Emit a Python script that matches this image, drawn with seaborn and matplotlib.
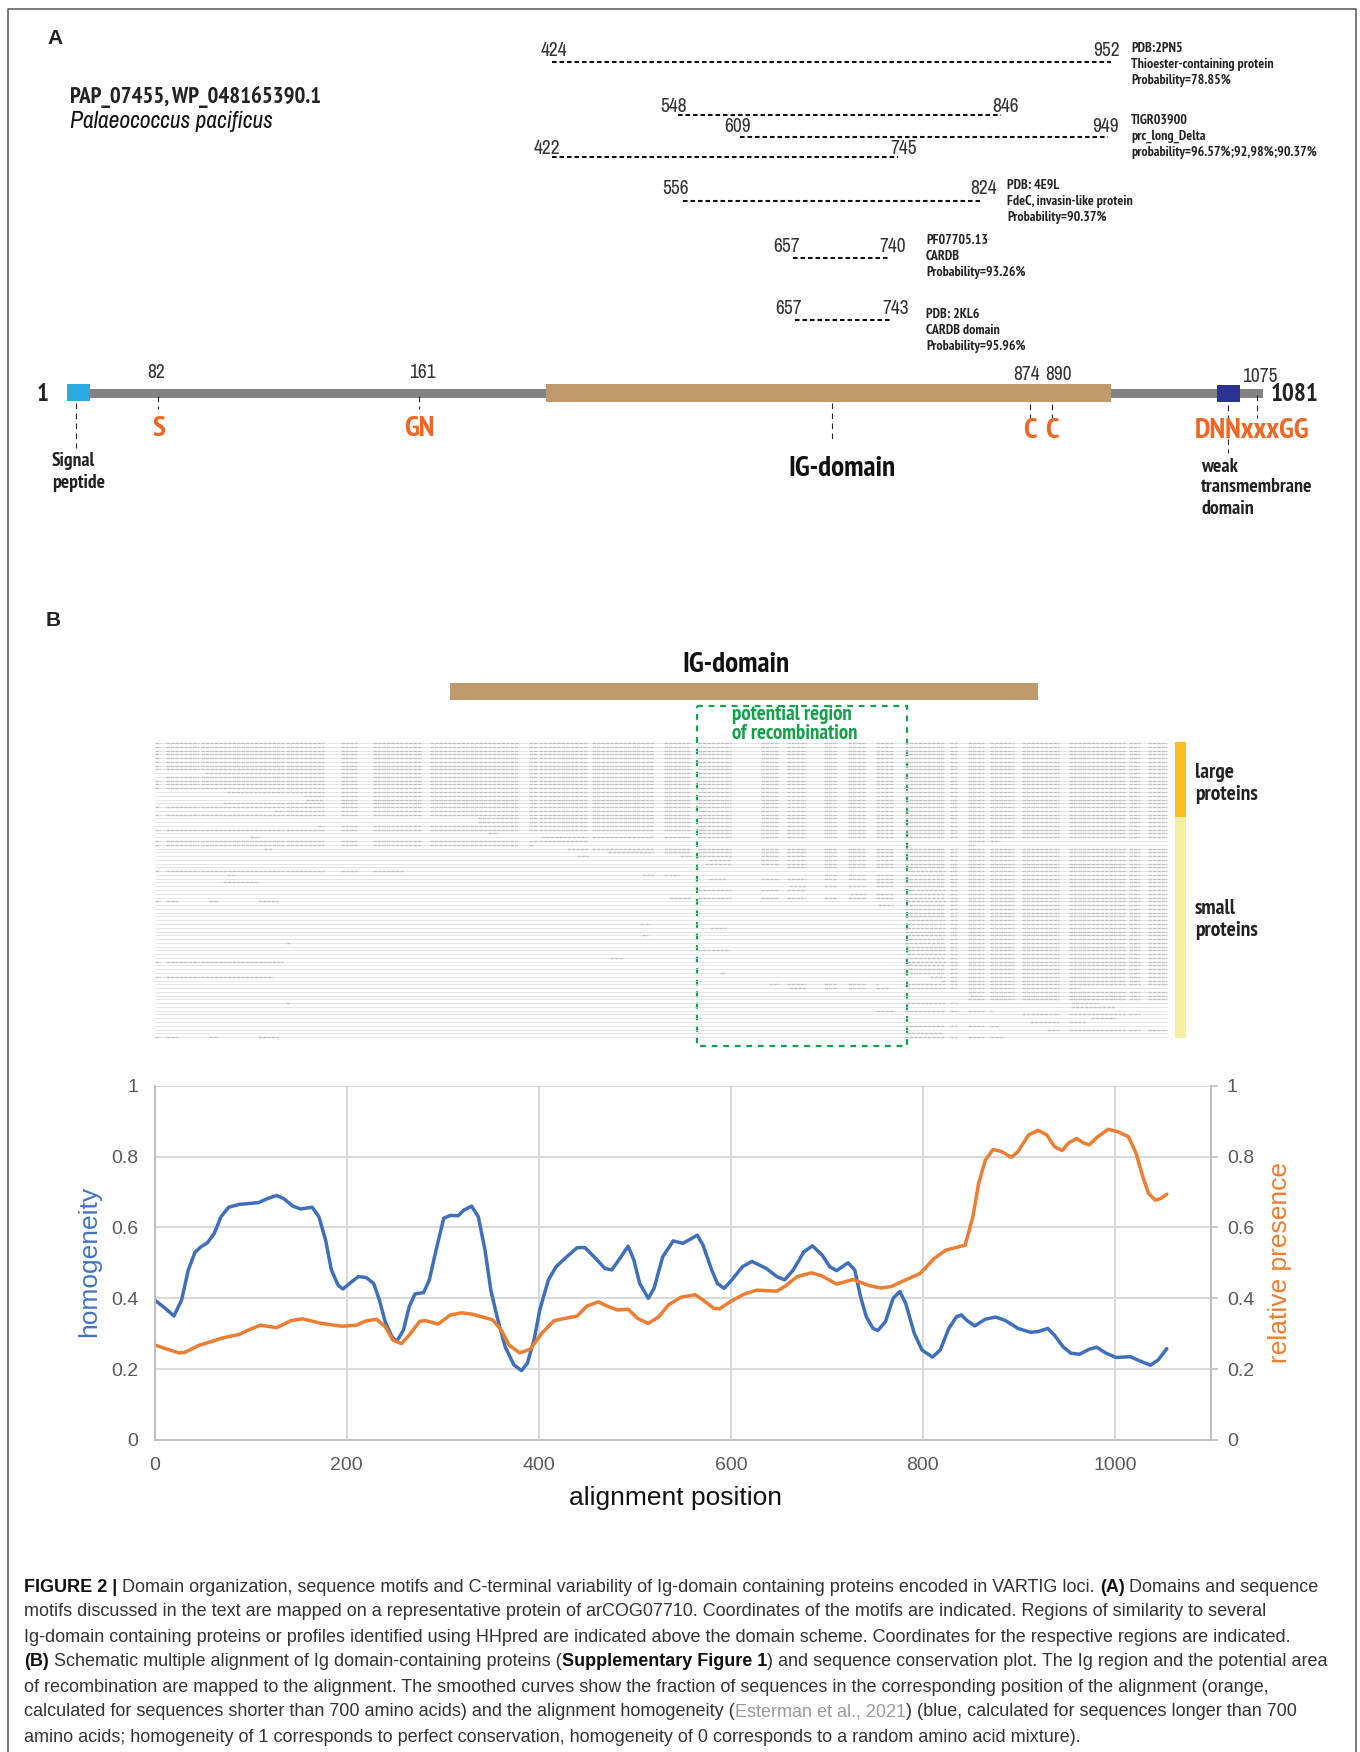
import matplotlib
matplotlib.use("Agg")
import matplotlib.pyplot as plt
import seaborn as sns
from matplotlib.patches import Rectangle

sns.set_theme(style="whitegrid")

NARROW = ['Archivo Narrow', 'Liberation Sans']
NARROW_BOLD = ['PT Sans Narrow', 'Liberation Sans']
plt.rcParams['font.family'] = ['Liberation Sans', 'DejaVu Sans']

# curves
blue_x = [0, 10, 20, 28, 35, 42, 48, 55, 62, 69, 77, 88, 108, 118, 127, 134, 144, 152, 164, 171, 178, 184, 191,
          196, 203, 212, 220, 228, 234, 240, 247, 252, 259, 265, 271, 280, 286, 293, 301, 308, 316, 322, 330, 337,
          344, 350, 357, 365, 374, 382, 388, 395, 401, 410, 418, 429, 440, 448, 459, 469, 476, 482, 493, 499, 505,
          514, 520, 529, 540, 550, 565, 571, 580, 586, 593, 601, 612, 622, 637, 648, 656, 665, 676, 685, 695, 703,
          710, 716, 722, 729, 735, 741, 748, 753, 761, 769, 776, 782, 791, 799, 810, 818, 827, 835, 840, 846, 854,
          865, 876, 886, 899, 912, 920, 930, 937, 946, 954, 963, 973, 981, 990, 1001, 1016, 1026, 1037, 1045, 1054]
blue_y = [.395, .374, .35, .395, .48, .53, .545, .557, .583, .63, .657, .665, .67, .682, .69, .682, .66, .652, .657,
          .63, .564, .48, .437, .426, .442, .461, .459, .442, .395, .334, .292, .278, .31, .376, .412, .416, .452,
          .536, .626, .634, .633, .649, .66, .63, .536, .423, .343, .263, .212, .196, .216, .282, .367, .452, .489,
          .517, .543, .543, .513, .484, .48, .503, .547, .508, .442, .40, .428, .517, .562, .555, .578, .55, .48,
          .442, .428, .452, .489, .504, .484, .461, .452, .48, .531, .548, .522, .489, .478, .489, .50, .48, .405,
          .348, .315, .309, .334, .40, .419, .386, .301, .254, .234, .254, .315, .348, .353, .337, .322, .341, .347,
          .337, .315, .304, .306, .315, .296, .263, .245, .242, .256, .262, .246, .233, .235, .223, .211, .226, .258]
orange_x = [0, 10, 25, 31, 46, 59, 72, 88, 99, 110, 127, 142, 154, 174, 195, 210, 220, 231, 240, 248, 257, 265, 276,
            282, 295, 308, 320, 331, 352, 361, 369, 380, 391, 403, 416, 427, 440, 450, 462, 471, 482, 493, 503, 514,
            525, 535, 548, 563, 571, 582, 588, 601, 614, 627, 648, 656, 669, 684, 695, 710, 727, 744, 756, 767, 778,
            797, 812, 824, 844, 852, 858, 865, 873, 882, 892, 899, 910, 920, 929, 937, 945, 952, 960, 967, 973, 982,
            993, 1003, 1014, 1022, 1029, 1035, 1042, 1048, 1054]
orange_y = [.268, .259, .246, .247, .267, .278, .289, .298, .312, .324, .317, .337, .342, .329, .321, .324, .336,
            .341, .32, .282, .272, .296, .335, .337, .327, .353, .359, .355, .339, .31, .268, .246, .256, .301, .337,
            .343, .35, .378, .39, .378, .367, .369, .343, .329, .348, .381, .403, .41, .395, .372, .37, .393, .412,
            .423, .42, .433, .461, .472, .463, .44, .453, .436, .429, .433, .447, .47, .513, .536, .55, .63, .724,
            .79, .82, .814, .798, .814, .861, .874, .861, .828, .817, .839, .851, .839, .833, .856, .877, .87, .856,
            .809, .743, .696, .677, .682, .694]
x_ticks = [0, 200, 400, 600, 800, 1000]
y_ticks = [0, 0.2, 0.4, 0.6, 0.8, 1]
y_tick_labels = ['0', '0.2', '0.4', '0.6', '0.8', '1']

# HHpred hits: start, end, row height on page, start/end drawn on page
hit_start = ['424', '548', '609', '422', '556', '657', '657']
hit_end = ['952', '846', '949', '745', '824', '740', '743']
hit_x0 = [552, 678, 740, 552, 683, 793, 795]
hit_x1 = [1111, 1001, 1108, 898, 980, 889, 892]
hit_y = [62, 115, 137, 157, 201, 258, 320]
hit_label_x0 = [554, 674, 738, 547, 676, 787, 789]
hit_label_x1 = [1107, 1006, 1106, 904, 984, 893, 896]
hit_label_y = [49, 104, 125, 146, 187, 245, 307]

note_lines = [['PDB:2PN5', 'Thioester-containing protein', 'Probability=78.85%'],
              ['TIGR03900', 'prc_long_Delta', 'probability=96.57%;92,98%;90.37%'],
              ['PDB: 4E9L', 'FdeC, invasin-like protein', 'Probability=90.37%'],
              ['PF07705.13', 'CARDB', 'Probability=93.26%'],
              ['PDB: 2KL6', 'CARDB domain', 'Probability=95.96%']]
note_x = [1131, 1131, 1007, 926, 926]
note_y = [47, 119, 184, 239, 313]

motif_pos = ['82', '161', '874', '890', '1075']
motif_pos_x = [156, 422, 1027, 1059, 1260]
motif_pos_y = [371, 371, 373, 373, 375]
motif_names = ['S', 'GN', 'C', 'C', 'DNNxxxGG']
motif_x = [159, 419, 1030, 1052, 1252]
motif_y = [427, 427, 429, 429, 429]

# thin dashed leader lines: x, top, bottom
lead_x = [158, 419, 76, 832, 1030, 1052, 1228, 1228, 1257]
lead_top = [396, 396, 403, 403, 404, 404, 405, 439, 395]
lead_bottom = [409, 409, 448, 443, 418, 418, 418, 453, 418]

# alignment rows: occupied stretches
FULL = [(155, 1167)]
row_spans = [FULL] * 8 + [
    [(205, 1167)], [(166, 1167)], FULL, FULL, FULL, [(227, 1167)], [(304, 1167)], [(306, 1167)], [(223, 1167)], FULL,
    [(274, 1167)], FULL, [(478, 1167)], [(478, 1167)], [(318, 1167)], FULL, [(488, 498), (696, 1167)],
    [(250, 260), (541, 1167)], [(155, 590), (968, 1000)], [(155, 533), (968, 975)], [(264, 272), (567, 1167)],
    [(608, 1167)], [(577, 590), (680, 1167)], [(709, 1167)], [(705, 1167)], [(787, 1167)], [(155, 403), (907, 1167)],
    [(227, 237), (642, 679), (805, 1167)], [(709, 725), (760, 1167)], [(223, 258), (870, 1167)], [(789, 1167)],
    [(696, 806), (907, 1167)], [(850, 1167)], [(669, 1167)], [(155, 178), (209, 218), (258, 278), (907, 1167)],
    [(878, 1167)], [(840, 842), (895, 1167)], [(895, 1167)], [(895, 1167)], [(907, 1167)], [(640, 650), (907, 1167)],
    [(710, 726), (836, 840), (907, 1167)], [(895, 1167)], [(642, 648), (907, 1167)], [(895, 1167)],
    [(286, 290), (895, 1167)], [(907, 1167)], [(690, 730), (907, 1167)], [(907, 1167)], [(610, 622), (900, 1167)],
    [(155, 283), (907, 1167)], [(895, 1167)], [(895, 1167)], [(720, 725), (905, 1167)], [(155, 273), (930, 1167)],
    [(941, 1167)], [(769, 878), (907, 1167)], [(789, 889), (907, 1080)], [(968, 1167)], [(970, 1167)], [(968, 1167)],
    [(286, 290), (907, 957), (1071, 1099)], [(1071, 1115)], [(870, 992)], [(1022, 1144)], [(1091, 1115)],
    [(1030, 1085)], [(895, 998)], [(1047, 1167)], [(907, 943)], [(155, 178), (209, 218), (258, 278), (895, 1004)]]
# columns that are mostly gaps
gap_cols = [(160, 166), (199, 201), (284, 286), (324, 341), (357, 373), (422, 430), (519, 529), (537, 539), (588, 592),
            (654, 664), (691, 698), (731, 761), (779, 787), (806, 824), (836, 848), (866, 876), (893, 905), (945, 950),
            (957, 968), (984, 990), (1014, 1022), (1059, 1069), (1125, 1129), (1140, 1148)]

caption = [
    [('FIGURE 2 | ', 'b'), ('Domain organization, sequence motifs and C-terminal variability of Ig-domain containing '
                            'proteins encoded in VARTIG loci. ', 'n'), ('(A)', 'b'), (' Domains and sequence', 'n')],
    [('motifs discussed in the text are mapped on a representative protein of arCOG07710. Coordinates of the motifs '
      'are indicated. Regions of similarity to several', 'n')],
    [('Ig-domain containing proteins or profiles identified using HHpred are indicated above the domain scheme. '
      'Coordinates for the respective regions are indicated.', 'n')],
    [('(B)', 'b'), (' Schematic multiple alignment of Ig domain-containing proteins (', 'n'),
     ('Supplementary Figure 1', 'b'), (') and sequence conservation plot. The Ig region and the potential area', 'n')],
    [('of recombination are mapped to the alignment. The smoothed curves show the fraction of sequences in the '
      'corresponding position of the alignment (orange,', 'n')],
    [('calculated for sequences shorter than 700 amino acids) and the alignment homogeneity (', 'n'),
     ('Esterman et al., 2021', 'g'), (') (blue, calculated for sequences longer than 700', 'n')],
    [('amino acids; homogeneity of 1 corresponds to perfect conservation, homogeneity of 0 corresponds to a random '
      'amino acid mixture).', 'n')]]
caption_y = [1587, 1611, 1637, 1661, 1687, 1712, 1737]

fig = plt.figure(figsize=(13.6, 17.52), dpi=100, facecolor='white')

# page axes in pixels for the two schematics
page = fig.add_axes([0, 0, 1, 1])
page.set_xlim(0, 1360)
page.set_ylim(1752, 0)
page.axis('off')
page.grid(False)

page.plot([8, 8, 1356, 1356], [1752, 9, 9, 1752], color='#555555', lw=1.1)


def label(x, y, s, size=14, color='#333333', ha='center', style='normal'):
    page.text(x, y + 2, s, fontsize=size, color=color, ha=ha, va='center', fontstyle=style, family=NARROW)


def blabel(x, y, s, size=14, color='#222222', ha='center'):
    page.text(x, y + 1.5, s, fontsize=size, fontweight='bold', color=color, ha=ha, va='center', family=NARROW_BOLD)


def box(x0, x1, y0, y1, color):
    page.add_patch(Rectangle((x0, y0), x1 - x0, y1 - y0, facecolor=color, edgecolor='none'))


# panel A
page.text(55, 38, 'A', fontsize=15, fontweight='bold', color='#222222', ha='center', va='center')
blabel(70, 95, 'PAP_07455, WP_048165390.1', size=16.4, ha='left')
label(70, 120, 'Palaeococcus pacificus', size=17, color='#111111', ha='left', style='italic')

page.hlines(hit_y, hit_x0, hit_x1, color='#111111', lw=1.5, linestyles=[(0, (2.2, 1.4))])
for i in range(len(hit_start)):
    label(hit_label_x0[i], hit_label_y[i], hit_start[i])
    label(hit_label_x1[i], hit_label_y[i], hit_end[i])
for lines, nx, ny in zip(note_lines, note_x, note_y):
    for j, s in enumerate(lines):
        blabel(nx, ny + j * 16.2, s, size=10, ha='left')

box(90, 1263, 389, 398, '#838383')
box(67, 90, 384, 401, '#29ABE2')
box(546, 1111, 384, 402, '#C19A6B')
box(1217, 1240, 385, 402, '#2A3390')
blabel(43, 393, '1', size=18)
blabel(1295, 393, '1081', size=18)
for s, mx, my in zip(motif_pos, motif_pos_x, motif_pos_y):
    label(mx, my, s)
page.vlines(lead_x, lead_top, lead_bottom, color='#222222', lw=0.8, linestyles=[(0, (5, 4))])
for s, mx, my in zip(motif_names, motif_x, motif_y):
    blabel(mx, my, s, size=21, color='#F26522')
blabel(52, 459, 'Signal', size=14, ha='left')
blabel(52, 482, 'peptide', size=14, ha='left')
blabel(842, 467, 'IG-domain', size=21, color='#111111')
for j, s in enumerate(['weak', 'transmembrane', 'domain']):
    blabel(1201, 465 + j * 21, s, size=14.4, ha='left')

# panel B, alignment
page.text(53, 621, 'B', fontsize=15, fontweight='bold', color='#222222', ha='center', va='center')
blabel(736, 663, 'IG-domain', size=21, color='#111111')
box(450, 1038, 683, 700, '#C19A6B')

row_y = [743 + i * 3.77 for i in range(len(row_spans))]
page.hlines(row_y, 155, 1167, color='#dadada', lw=0.5)
seg_y, seg_x0, seg_x1 = [], [], []
for y, spans in zip(row_y, row_spans):
    for a, b in spans:
        pos = a
        for g0, g1 in gap_cols:
            if g1 <= pos or g0 >= b:
                continue
            if g0 > pos:
                seg_y.append(y)
                seg_x0.append(pos)
                seg_x1.append(g0)
            pos = max(pos, g1)
        if pos < b:
            seg_y.append(y)
            seg_x0.append(pos)
            seg_x1.append(b)
page.hlines(seg_y, seg_x0, seg_x1, color='#c0c0c0', lw=1.0, linestyles=[(0, (2.5, 0.7))])

page.add_patch(Rectangle((697, 706), 210, 340, fill=False, edgecolor='#12A04A', lw=1.6, linestyle=(0, (2.6, 2.6))))
blabel(732, 713, 'potential region', size=15, color='#12A04A', ha='left')
blabel(732, 732, 'of recombination', size=15, color='#12A04A', ha='left')

box(1175, 1186, 742, 817, '#FDBE21')
box(1175, 1186, 817, 1038, '#F5F0A0')
for j, s in enumerate(['large', 'proteins']):
    blabel(1195, 771 + j * 22, s, size=15.5, ha='left')
for j, s in enumerate(['small', 'proteins']):
    blabel(1195, 907 + j * 22, s, size=15.5, ha='left')

# caption, run by run
fig.canvas.draw()
rend = fig.canvas.get_renderer()
CAP = 13.0


def run_width(s, weight):
    probe = page.text(0, 0, s + '|', fontsize=CAP, fontweight=weight)
    bar = page.text(0, 0, '|', fontsize=CAP, fontweight=weight)
    w = probe.get_window_extent(rend).width - bar.get_window_extent(rend).width
    probe.remove()
    bar.remove()
    return w


for runs, y in zip(caption, caption_y):
    x = 24
    for s, kind in runs:
        weight = 'bold' if kind == 'b' else 'normal'
        color = '#999999' if kind == 'g' else ('#111111' if kind == 'b' else '#333333')
        page.text(x, y, s, fontsize=CAP, fontweight=weight, color=color, ha='left', va='center')
        x += run_width(s, weight)

# conservation plot
ax = fig.add_axes([154.7 / 1360, 1 - 1440 / 1752, (1211 - 154.7) / 1360, (1440 - 1085.7) / 1752])
ax.patch.set_alpha(0)
sns.lineplot(x=blue_x, y=blue_y, ax=ax, color='#3F6FBB', lw=2.5, estimator=None, solid_joinstyle='round')
ax.set_xlim(0, 1100)
ax.set_ylim(0, 1)
ax.set_xticks(x_ticks)
ax.set_yticks(y_ticks)
ax.set_yticklabels(y_tick_labels)
ax.grid(True, color='#d9d9d9', lw=1.5)
ax.tick_params(axis='both', labelsize=14, labelcolor='#595959', length=0, pad=12)
ax.set_xlabel('alignment position', fontsize=19, color='#111111', va='center')
ax.xaxis.set_label_coords(0.4935, -0.164)
ax.set_ylabel('homogeneity', fontsize=19, color='#4472C4', va='center')
ax.yaxis.set_label_coords(-0.0622, 0.505)

ax2 = ax.twinx()
sns.lineplot(x=orange_x, y=orange_y, ax=ax2, color='#ED7D31', lw=2.5, estimator=None, solid_joinstyle='round')
ax2.set_ylim(0, 1)
ax2.set_yticks(y_ticks)
ax2.set_yticklabels(y_tick_labels)
ax2.grid(False)
ax2.tick_params(axis='y', labelsize=14, labelcolor='#595959', length=5, width=1.2, color='#bfbfbf', pad=6.5)
ax2.set_ylabel('relative presence', fontsize=19, color='#ED7D31', va='center')
ax2.yaxis.set_label_coords(1.0653, 0.50)

for a in (ax, ax2):
    a.spines['top'].set_visible(False)
    for side in ('left', 'right', 'bottom'):
        a.spines[side].set_color('#bfbfbf')
        a.spines[side].set_linewidth(1.3)

fig.savefig('out.png', dpi=100)
